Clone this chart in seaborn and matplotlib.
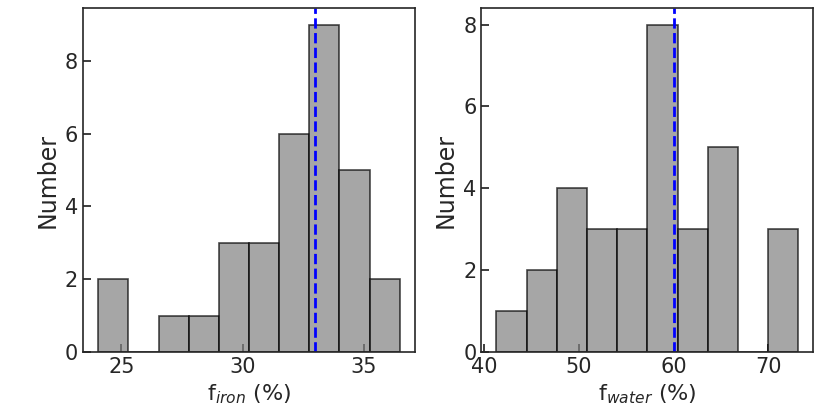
import numpy as np
import pandas as pd
import matplotlib
matplotlib.use("Agg")
import matplotlib.pyplot as plt
import seaborn as sns

# histogram bins
iron_edges = [24.04, 25.28, 26.53, 27.77, 29.02, 30.26, 31.50, 32.75, 33.99, 35.24, 36.48]
iron_counts = [2, 0, 1, 1, 3, 3, 6, 9, 5, 2]
iron_best = 33.0

water_edges = [41.31, 44.50, 47.68, 50.87, 54.05, 57.24, 60.42, 63.61, 66.79, 69.98, 73.16]
water_counts = [1, 2, 4, 3, 3, 8, 3, 5, 0, 3]
water_best = 60.0


def bin_table(edges, counts):
    centers = [(a + b) / 2 for a, b in zip(edges[:-1], edges[1:])]
    return pd.DataFrame({'value': centers, 'count': counts})


sns.set_theme(style='ticks')
plt.rcParams['font.family'] = ['DejaVu Sans']

fig, axes = plt.subplots(1, 2, figsize=(8.3, 4.15), dpi=100)
fig.subplots_adjust(left=0.1, right=0.98, top=0.98, bottom=0.152, wspace=0.2)

panels = [
    (axes[0], iron_edges, iron_counts, iron_best, 'f$_{iron}$ (%)', [25, 30, 35]),
    (axes[1], water_edges, water_counts, water_best, 'f$_{water}$ (%)', [40, 50, 60, 70]),
]

for ax, edges, counts, best, xlabel, xticks in panels:
    df = bin_table(edges, counts)
    sns.histplot(data=df, x='value', weights='count', bins=edges, ax=ax,
                 color='gray', alpha=0.7, edgecolor=(0, 0, 0, 0.7), linewidth=1.2)
    ax.axvline(best, color='blue', linestyle='--', linewidth=2)
    ax.set_xticks(xticks)
    ax.set_xlabel(xlabel, fontsize=16)
    ax.set_ylabel('Number', fontsize=17)
    ax.tick_params(direction='in', labelsize=15, length=6)
    for s in ax.spines.values():
        s.set_visible(True)
        s.set_linewidth(1.2)

axes[0].set_yticks([0, 2, 4, 6, 8])
axes[1].set_yticks([0, 2, 4, 6, 8])

fig.savefig('out.png', dpi=100)
